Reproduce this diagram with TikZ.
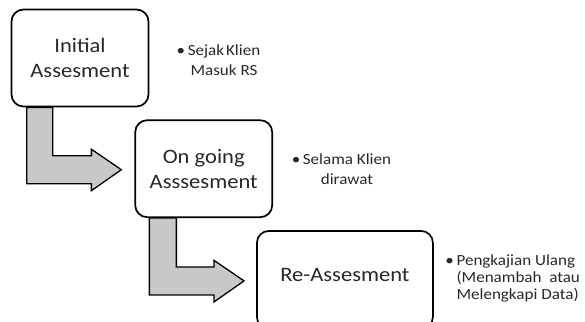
\documentclass[tikz,border=0pt]{standalone}
\usepackage{fontspec}
\setmainfont{Carlito}[FakeStretch=1.1]
\usepackage{tikz}
\usetikzlibrary{positioning,calc}
\usepackage{xcolor}
\definecolor{arrowgray}{RGB}{200,200,200}
\definecolor{textgray}{RGB}{40,40,40}
\tikzstyle{stepbox} = [rectangle, rounded corners=12pt, minimum width=137pt, minimum height=97pt, align=center, draw=black, fill=white, line width=1.7pt, text=textgray, font=\fontsize{20.5}{25}\selectfont]
\tikzstyle{note} = [align=center, text=textgray, font=\fontsize{15.5}{20}\selectfont]
\tikzstyle{bentarrow} = [fill=arrowgray, draw=black, line width=1.3pt, line join=miter]

\begin{document}
\begin{tikzpicture}[x=1pt, y=-1pt]
\useasboundingbox (0,0) rectangle (585,321);
% Three steps of the assessment
\node (initial) [stepbox] at (80,58) {Initial\\Assesment};

\node (ongoing) [stepbox, below right=12pt and -15pt of initial] {On going\\Asssesment};

\node (reassess) [stepbox, below right=12pt and -17pt of ongoing, minimum width=176pt, minimum height=98pt] {\raisebox{9pt}{Re-Assesment}};

% Notes beside the boxes
\node (note1) [note] at (224,60) {\llap{\textbullet\,}Sejak\hspace{2pt}Klien\\Masuk RS};
\node (note2) [note] at (347,169) {\llap{\textbullet\,}Selama Klien\\dirawat};
\node (note3) [note, anchor=west, align=left, font=\fontsize{15.5}{17}\selectfont] at (453,278) {\llap{\textbullet\,}Pengkajian Ulang\\(Menambah\ \ atau\\Melengkapi Data)};

% Bent arrows between the steps
\draw[bentarrow] ($(initial.south west)+(16,0)$) |- ($(ongoing.west)+(-43,15)$) -- ++(0,7) -- ($(ongoing.west)+(-13,1)$) -- ++(-30,-20.5) -- ++(0,6.5) -| ($(initial.south west)+(42,0)$) -- cycle;
\draw[bentarrow] ($(ongoing.south west)+(15,0)$) |- ($(reassess.west)+(-42,15)$) -- ++(0,7) -- ($(reassess.west)+(-12,1)$) -- ++(-30,-20.5) -- ++(0,6.5) -| ($(ongoing.south west)+(42,0)$) -- cycle;
\end{tikzpicture}
\end{document}
